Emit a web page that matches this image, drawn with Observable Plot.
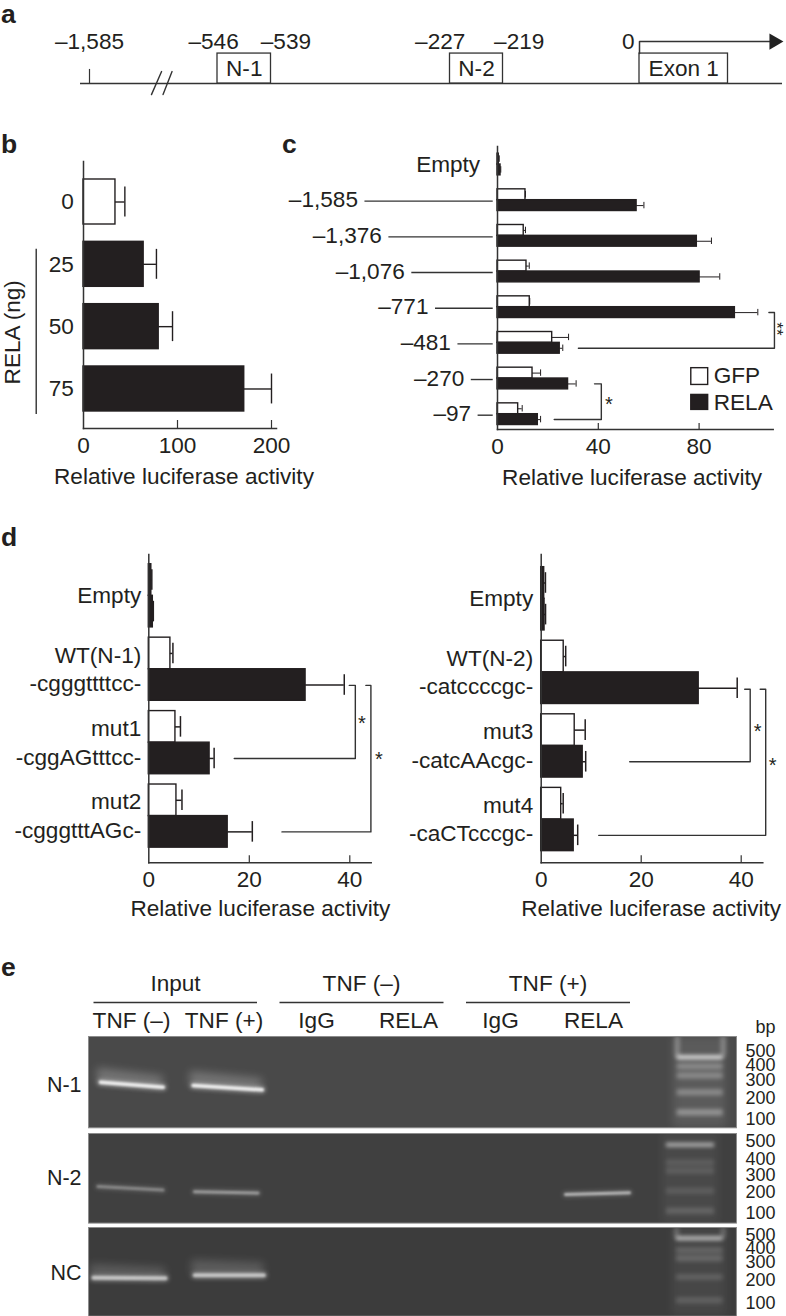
<!DOCTYPE html>
<html><head><meta charset="utf-8">
<script src="https://cdn.jsdelivr.net/npm/d3@7"></script>
<script src="https://cdn.jsdelivr.net/npm/@observablehq/plot@0.6"></script>
<style>
html,body{margin:0;padding:0;background:#fff}
#page{position:relative;width:786px;height:1316px;overflow:hidden;font-family:"Liberation Sans",Arial,sans-serif;color:#231f20}
#page svg{position:absolute;background:transparent;overflow:visible}
.tag{position:absolute;font-weight:700;font-size:26.5px;line-height:27px}
</style></head><body><div id="page"></div>
<script>
const INK="#231f20", FONT="Liberation Sans, Arial, sans-serif", AXIS_LABEL="Relative luciferase activity", FS=22.6;

// panel a
const siteNames=["–1,585","–546","–539","–227","–219","0"];
const sitePos=[-1585,-578,-513,-244,-193,-18];
const boxes=[{n:"N-1",a:-546,b:-539,c:-542.5},{n:"N-2",a:-227,b:-219,c:-223},{n:"Exon 1",a:0,b:100,c:50}];

// panel b
const bDoses=["0","25","50","75"];
const bMeans=[34,64,80,171];
const bErrs=[44,77.6,94.7,200];

// panel c
const cNames=["Empty","–1,585","–1,376","–1,076","–771","–481","–270","–97"];
const cGfp=[0.5,11.1,10.4,11.5,12.8,21.7,13.9,8.2];
const cGfpErr=[0.7,11.1,11.1,12.6,12.8,28.2,17.1,9.8];
const cRela=[1.2,55.2,79.1,80.2,94.2,24.7,28,16];
const cRelaErr=[1.3,58.1,84.9,88.2,103.3,25.9,31.2,17.1];
const cLeader=[null,-52.6,-43.1,-34,-24.6,-15.7,-10.4,-7.7];

// panel d
const dlNames=["Empty","WT(N-1)","mut1","mut2"];
const dlSeqs=[null,"-cgggttttcc-","-cggAGtttcc-","-cgggtttAGc-"];
const dlGfp=[0.5,4.3,5.3,5.5], dlGfpErr=[0.6,4.8,6.3,6.6];
const dlRela=[0.8,31.2,12.1,15.7], dlRelaErr=[0.9,38.9,13,20.6];
const drNames=["Empty","WT(N-2)","mut3","mut4"];
const drSeqs=[null,"-catccccgc-","-catcAAcgc-","-caCTcccgc-"];
const drGfp=[0.6,4.5,6.7,4], drGfpErr=[0.85,4.9,8.8,4.4];
const drRela=[0.67,31.5,8.3,6.5], drRelaErr=[0.87,39.2,8.9,7.3];

// panel e
const bpLabels=[500,400,300,200,100];
const groups=[{t:"Input",c:87,a:5.5,b:169},{t:"TNF (–)",c:273,a:191.5,b:355.5},{t:"TNF (+)",c:459.5,a:378,b:542}];
const lanes=[{t:"TNF (–)",c:43},{t:"TNF (+)",c:135.5},{t:"IgG",c:228},{t:"RELA",c:320},{t:"IgG",c:412},{t:"RELA",c:505}];

function mount(box,o,marks){
  const xr=o.x.range,yr=o.y.range;
  const x0=Math.min(...xr),x1=Math.max(...xr),y0=Math.min(...yr),y1=Math.max(...yr);
  const svg=Plot.plot({width:box.w,height:box.h,
    marginLeft:x0-box.l,marginRight:box.l+box.w-x1,marginTop:y0-box.t,marginBottom:box.t+box.h-y1,
    x:{type:"linear",axis:null,domain:o.x.domain,range:xr.map(v=>v-box.l)},
    y:{type:"linear",axis:null,domain:o.y.domain,range:yr.map(v=>v-box.t)},
    style:{fontFamily:FONT,fontSize:FS+"px",color:INK,background:"transparent",overflow:"visible"},
    marks});
  svg.style.left=box.l+"px";svg.style.top=box.t+"px";
  document.getElementById("page").appendChild(svg);
}
const txt=(data,o)=>Plot.text(data,{fill:INK,fontSize:FS,lineAnchor:"middle",...o});

// a ---------------------------------------------------------------
const aX={domain:[-1660,-1585,-546,-539,-227,-219,0,100,140,160],range:[80,89,217,270.5,449.5,502.5,639,727.5,770,782]};
mount({l:0,t:25,w:786,h:80},{x:aX,y:{domain:[1.77,-0.567],range:[30,100]}},[
  Plot.ruleY([0],{x1:-1660,x2:160,stroke:"#333",strokeWidth:1.5}),
  Plot.ruleX([-1585],{y1:0,y2:0.47,stroke:"#333",strokeWidth:1.2}),
  Plot.line([{x:-1082,y:-0.37},{x:-1000,y:0.4}],{x:"x",y:"y",stroke:"#333",strokeWidth:1.4}),
  Plot.line([{x:-988,y:-0.37},{x:-915,y:0.4}],{x:"x",y:"y",stroke:"#333",strokeWidth:1.4}),
  Plot.rect(boxes,{x1:"a",x2:"b",y1:0,y2:1,fill:"white",stroke:"#333",strokeWidth:1.3}),
  txt(boxes,{x:"c",y:0.5,text:"n"}),
  Plot.line([{x:0,y:1},{x:0,y:1.4},{x:140,y:1.4}],{x:"x",y:"y",stroke:"#333",strokeWidth:1.5}),
  Plot.dot([{x:146,y:1.4}],{x:"x",y:"y",symbol:"triangle",rotate:90,r:6,fill:"#222",stroke:null}),
  txt(siteNames.map((n,i)=>({n,p:sitePos[i]})),{x:"p",y:1.38,text:"n"})
]);

// bar panels ------------------------------------------------------
function bars(c){
  const yD=[(c.top-c.y0)/c.step,(c.bot-c.y0)/c.step];
  const xD=[0,(c.xEnd-c.x0)/c.k];
  const rows=c.series.flatMap(s=>s.v.map((v,i)=>({v,e:s.e[i],i,y1:i+s.a,y2:i+s.b,yc:i+(s.a+s.b)/2,fill:s.fill(i)})));
  const tickLen=c.tick/c.step;
  const marks=[
    Plot.rect(rows,{x1:0,x2:"v",y1:"y1",y2:"y2",fill:"fill",stroke:INK,strokeWidth:1.4}),
    Plot.ruleY(rows,{x1:"v",x2:"e",y:"yc",stroke:INK,strokeWidth:c.ew}),
    Plot.ruleX(rows,{x:"e",y1:d=>d.yc-c.cap,y2:d=>d.yc+c.cap,stroke:INK,strokeWidth:c.ew}),
    Plot.frame({anchor:"left",stroke:"#333",strokeWidth:1.5}),
    Plot.frame({anchor:"bottom",stroke:"#333",strokeWidth:1.5}),
    Plot.ruleX(c.ticks.slice(1),{y1:yD[1]-tickLen,y2:yD[1],stroke:"#333",strokeWidth:1.2}),
    Plot.axisX(c.ticks,{anchor:"bottom",tickSize:0,tickPadding:c.tp,fontSize:FS,fill:INK,label:null,tickFormat:d=>String(d)}),
    txt([AXIS_LABEL],{x:c.lx,y:c.ly,text:d=>d})
  ];
  (c.brackets||[]).forEach(b=>marks.push(Plot.line(
    [{x:b.from,y:b.row},{x:b.at,y:b.row},{x:b.at,y:b.topRow},{x:b.to,y:b.topRow}],
    {x:"x",y:"y",stroke:"#333",strokeWidth:1.4,curve:"linear"})));
  (c.stars||[]).forEach(s=>marks.push(txt([s.t||"*"],{x:s.x,y:s.y,text:d=>d,fontSize:s.r?17:20,dy:s.r?0:4,rotate:s.r||0})));
  marks.push(...(c.extra||[]));
  mount(c.box,{x:{domain:xD,range:[c.x0,c.xEnd]},y:{domain:yD,range:[c.top,c.bot]}},marks);
}
const openFirstDark=i=>i===0?INK:"white", solid=()=>INK;

// b
bars({box:{l:0,t:125,w:320,h:370},x0:83,xEnd:276,k:0.94,y0:201.5,step:62.33,top:161,bot:428,
  series:[{v:bMeans,e:bErrs,a:-0.361,b:0.361,fill:i=>i===0?"white":INK}],
  ticks:[0,100,200],tick:8,tp:8,cap:0.24,ew:1.4,lx:106.9,ly:4.415,
  extra:[
    txt(bDoses.map((t,i)=>({t,i})),{x:-10.3,y:"i",text:"t",textAnchor:"end"}),
    Plot.ruleX([-50.3],{y1:0.76,y2:3.41,stroke:"#333",strokeWidth:1.4}),
    txt(["RELA (ng)"],{x:-75.5,y:2.09,text:d=>d,rotate:-90})
  ]});

// c
bars({box:{l:270,t:125,w:516,h:370},x0:497,xEnd:772.7,k:2.52,y0:164,step:35.67,top:146,bot:429,
  series:[{v:cGfp,e:cGfpErr,a:-0.304,b:0,fill:openFirstDark},{v:cRela,e:cRelaErr,a:0,b:0.304,fill:solid}],
  ticks:[0,40,80],tick:6,tp:8,cap:0.09,ew:1,lx:53.4,ly:8.77,
  brackets:[{from:32.1,at:109.9,to:107.7,row:5.15,topRow:4.15},{from:22.5,at:41.2,to:38.5,row:7.15,topRow:6.15}],
  stars:[{x:110.5,y:4.61,t:"**",r:90},{x:44.2,y:6.62}],
  extra:[
    txt(cNames.map((t,i)=>({t,i,x:i===0?-4.1:cLeader[i]})),{x:"x",y:"i",text:"t",textAnchor:"end",dx:-7}),
    Plot.ruleY(cLeader.map((x,i)=>({x,i})).filter(d=>d.x!==null),{x1:"x",x2:-1.7,y:"i",dy:1,stroke:"#333",strokeWidth:1.4}),
    Plot.rect([{a:5.71,b:6.18,f:"white"},{a:6.46,b:6.88,f:INK}],{x1:76.9,x2:83.6,y1:"a",y2:"b",fill:"f",stroke:INK,strokeWidth:1.4}),
    txt([{t:"GFP",y:5.93},{t:"RELA",y:6.68}],{x:85.8,y:"y",text:"t",textAnchor:"start"})
  ]});

// d
function dLabels(names,seqs,x){
  return [
    txt(names.map((t,i)=>({t,y:i===0?0:i-0.19})),{x,y:"y",text:"t",textAnchor:"end"}),
    txt(seqs.map((t,i)=>({t,y:i+0.2})).filter(d=>d.t),{x,y:"y",text:"t",textAnchor:"end"})
  ];
}
bars({box:{l:0,t:540,w:400,h:390},x0:148.3,xEnd:370.7,k:5.025,y0:595.3,step:73.43,top:554,bot:862.3,
  series:[{v:dlGfp,e:dlGfpErr,a:-0.43,b:0,fill:openFirstDark},{v:dlRela,e:dlRelaErr,a:0,b:0.43,fill:solid}],
  ticks:[0,20,40],tick:7,tp:8,cap:0.14,ew:1.5,lx:22.2,ly:4.263,
  brackets:[{from:17,at:41.1,to:39.9,row:2.215,topRow:1.22},{from:26.5,at:44.2,to:43.2,row:3.215,topRow:1.22}],
  stars:[{x:42.4,y:1.69},{x:45.8,y:2.18}],
  extra:dLabels(dlNames,dlSeqs,-1.5)});
bars({box:{l:400,t:540,w:386,h:390},x0:540.7,xEnd:762.3,k:5,y0:598.3,step:73.57,top:554,bot:862.3,
  series:[{v:drGfp,e:drGfpErr,a:-0.43,b:0,fill:openFirstDark},{v:drRela,e:drRelaErr,a:0,b:0.43,fill:solid}],
  ticks:[0,20,40],tick:7,tp:8,cap:0.14,ew:1.5,lx:22,ly:4.214,
  brackets:[{from:17.7,at:41.8,to:40.7,row:2.215,topRow:1.23},{from:11.5,at:44.9,to:43.8,row:3.215,topRow:1.23}],
  stars:[{x:43.3,y:1.75},{x:46.3,y:2.21}],
  extra:dLabels(drNames,drSeqs,-1.6)});

// e header
mount({l:0,t:965,w:786,h:71},{x:{domain:[0,648],range:[88,736]},y:{domain:[965,1036],range:[965,1036]}},[
  txt(groups,{x:"c",y:983,text:"t"}),
  Plot.ruleY(groups,{x1:"a",x2:"b",y:1002,stroke:"#333",strokeWidth:1.6}),
  txt(lanes,{x:"c",y:1020,text:"t"}),
  txt(["bp"],{x:677,y:1027,text:d=>d,fontSize:18})
]);

// gels
function gel(g){
  const h=g.bottom-g.top;
  const ladder=g.ladder.map((y,i)=>({y,o:g.lum[i],sw:i===0?3.5:6}));
  const blur=n=>`blur(${n}px)`;
  const bandMarks=g.bands.flatMap(b=>{
    const core=[{x:b.x1,y:b.y1},{x:b.x2,y:b.y2}];
    const marks=[];
    if(b.haze) marks.push(Plot.areaY([{x:b.x1-3,t:b.y1-b.haze,b:b.y1},{x:b.x2,t:b.y2-b.haze+3,b:b.y2}],
      {x:"x",y1:"t",y2:"b",fill:"white",fillOpacity:b.hazeO,imageFilter:blur(4)}));
    marks.push(Plot.line(core,{x:"x",y:"y",stroke:"white",strokeOpacity:b.glow,strokeWidth:b.w+3,imageFilter:blur(2.2)}));
    marks.push(Plot.line(core,{x:"x",y:"y",stroke:"white",strokeOpacity:b.o,strokeWidth:b.w,imageFilter:blur(1.3)}));
    return marks;
  });
  const walls=g.walls?[Plot.ruleX([g.lx1,g.lx2],{y1:0,y2:g.ladder[0],stroke:"white",strokeOpacity:g.walls,strokeWidth:5,imageFilter:blur(2)})]:[];
  mount({l:0,t:g.top,w:786,h},{x:{domain:[0,648],range:[88,736]},y:{domain:[0,h],range:[g.top,g.bottom]}},[
    Plot.frame({fill:g.fill}),
    Plot.rect([0],{x1:g.lx1-4,x2:g.lx2+4,y1:0,y2:h,fill:"white",fillOpacity:g.lhaze,imageFilter:blur(5)}),
    Plot.rect([0],{x1:g.lx2+25,x2:648,y1:0,y2:h,fill:"white",fillOpacity:0.02}),
    ...walls,
    Plot.ruleY(ladder,{x1:g.lx1,x2:g.lx2,y:"y",stroke:"white",strokeOpacity:"o",strokeWidth:"sw",imageFilter:blur(2)}),
    ...bandMarks,
    Plot.frame({stroke:"#8c8c8c",strokeWidth:1}),
    txt([g.name],{x:-7,y:g.nameY,text:d=>d,textAnchor:"end",fontSize:21.5}),
    txt(bpLabels.map((t,i)=>({t,y:g.bpY[i]})),{x:687,y:"y",text:"t",textAnchor:"end",fontSize:18})
  ]);
}
gel({name:"N-1",top:1036,bottom:1127.3,fill:"#494949",nameY:49,lx1:588.7,lx2:634.7,lhaze:0.1,walls:0.3,
  ladder:[20.7,29.7,39,55.7,75.7],lum:[0.95,0.3,0.3,0.3,0.36],bpY:[15,28.3,43.3,61.3,82.3],
  bands:[{x1:12,y1:45.7,x2:74.7,y2:50.7,w:3.5,o:0.85,glow:0.4,haze:14,hazeO:0.24},
         {x1:104.7,y1:49,x2:173.7,y2:53.3,w:3.5,o:0.85,glow:0.4,haze:14,hazeO:0.24}]});
gel({name:"N-2",top:1132.7,bottom:1222.3,fill:"#404040",nameY:45,lx1:578,lx2:626,lhaze:0.05,
  ladder:[11.3,29,37.3,57.3,77.3],lum:[0.65,0.12,0.13,0.12,0.16],bpY:[8,25.3,41.3,59,80],
  bands:[{x1:9.5,y1:53,x2:74.5,y2:56.6,w:3,o:0.3,glow:0.14},
         {x1:106,y1:58.3,x2:169.5,y2:59.6,w:3,o:0.4,glow:0.16},
         {x1:477,y1:61,x2:541,y2:59.3,w:3,o:0.55,glow:0.18}]});
gel({name:"NC",top:1227.3,bottom:1316,fill:"#3c3c3c",nameY:45.7,lx1:588,lx2:634.7,lhaze:0.06,walls:0.22,
  ladder:[10.7,22.7,30.7,49.4,72.7],lum:[0.75,0.17,0.19,0.15,0.15],bpY:[7.7,21,34.4,52.7,75.7],
  bands:[{x1:5,y1:50.3,x2:77,y2:50.8,w:4,o:0.55,glow:0.3,haze:13,hazeO:0.17},
         {x1:106.3,y1:47.7,x2:175.3,y2:47.7,w:4,o:0.55,glow:0.3,haze:15,hazeO:0.17}]});

// panel letters
[["a",1.3,1],["b",131,1],["c",131,282],["d",524,1],["e",954,1]].forEach(([t,top,left])=>{
  const d=document.createElement("div");d.className="tag";d.textContent=t;
  d.style.top=top+"px";d.style.left=left+"px";document.getElementById("page").appendChild(d);
});
</script></body></html>
